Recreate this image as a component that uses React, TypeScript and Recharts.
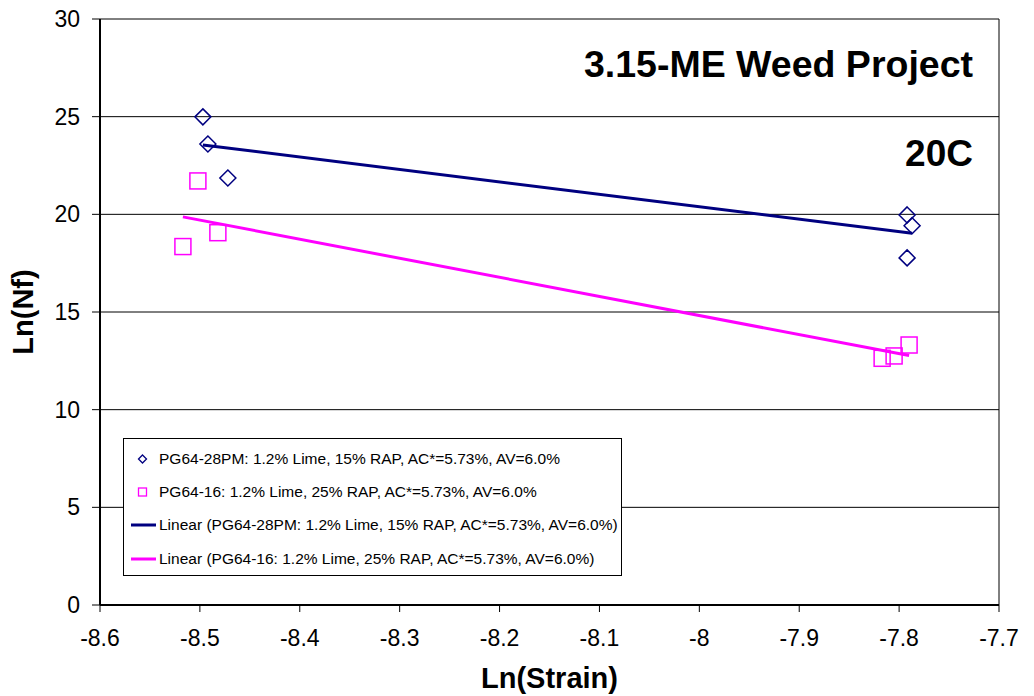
import { CartesianGrid, Label, Legend, ReferenceLine, Scatter, ScatterChart, XAxis, YAxis } from "recharts";

// Ln(Strain) / Ln(Nf)
const pg6428Strain = [-8.497, -8.492, -8.472, -7.792, -7.787, -7.792];
const pg6428Nf = [24.99, 23.6, 21.86, 19.97, 19.42, 17.77];
const pg6416Strain = [-8.502, -8.482, -8.517, -7.79, -7.805, -7.817];
const pg6416Nf = [21.71, 19.06, 18.35, 13.31, 12.75, 12.63];

// linear trendline end points
const pg6428TrendStrain = [-8.497, -7.787];
const pg6428TrendNf = [23.55, 19.03];
const pg6416TrendStrain = [-8.517, -7.79];
const pg6416TrendNf = [19.87, 12.77];

const xTicks = [-8.6, -8.5, -8.4, -8.3, -8.2, -8.1, -8, -7.9, -7.8, -7.7];
const yTicks = [0, 5, 10, 15, 20, 25, 30];

const label28 = "PG64-28PM: 1.2% Lime, 15% RAP, AC*=5.73%, AV=6.0%";
const label16 = "PG64-16: 1.2% Lime, 25% RAP, AC*=5.73%, AV=6.0%";

const NAVY = "#000080";
const PINK = "#FF00FF";
const FONT = '"Liberation Sans", Arial, sans-serif';

const toPoints = (xs: number[], ys: number[]) => xs.map((x, i) => ({ x, y: ys[i] }));

function Diamond(props: any) {
  const { cx, cy } = props;
  const r = 8;
  return (
    <polygon
      points={`${cx},${cy - r} ${cx + r},${cy} ${cx},${cy + r} ${cx - r},${cy}`}
      fill="none"
      stroke={NAVY}
      strokeWidth={1.5}
    />
  );
}

function Square(props: any) {
  const { cx, cy } = props;
  const h = 8;
  return <rect x={cx - h} y={cy - h} width={h * 2} height={h * 2} fill="none" stroke={PINK} strokeWidth={1.5} />;
}

const NoDot = () => <g />;

function LegendBox() {
  const rows = [
    { kind: "diamond", text: label28 },
    { kind: "square", text: label16 },
    { kind: "navy", text: `Linear (${label28})` },
    { kind: "pink", text: `Linear (${label16})` },
  ];
  return (
    <div
      style={{
        width: 499,
        height: 138,
        boxSizing: "border-box",
        border: "1px solid #000",
        background: "#fff",
        paddingTop: 3,
        fontFamily: FONT,
        fontSize: 15.5,
        color: "#000",
        textAlign: "left",
      }}
    >
      {rows.map((r) => (
        <div key={r.text} style={{ height: 33.4, display: "flex", alignItems: "center", whiteSpace: "nowrap" }}>
          <svg width={35} height={20} style={{ flex: "none" }}>
            {r.kind === "diamond" && (
              <polygon points="18.5,6 22.5,10 18.5,14 14.5,10" fill="none" stroke={NAVY} strokeWidth={1.3} />
            )}
            {r.kind === "square" && <rect x={14.5} y={6} width={8} height={8} fill="none" stroke={PINK} strokeWidth={1.3} />}
            {r.kind === "navy" && <line x1={7} x2={32} y1={10} y2={10} stroke={NAVY} strokeWidth={3} />}
            {r.kind === "pink" && <line x1={7} x2={32} y1={10} y2={10} stroke={PINK} strokeWidth={3} />}
          </svg>
          <span>{r.text}</span>
        </div>
      ))}
    </div>
  );
}

export default function App() {
  return (
    <div style={{ position: "absolute", left: 0, top: 0, width: 1034, height: 696, background: "#fff", fontFamily: FONT }}>
      <ScatterChart width={1034} height={696} margin={{ top: 19, right: 35, bottom: 0, left: 0 }}>
        <CartesianGrid horizontal vertical={false} stroke="#000" strokeWidth={1} />
        <XAxis
          type="number"
          dataKey="x"
          domain={[-8.6, -7.7]}
          ticks={xTicks}
          interval={0}
          height={91}
          axisLine={{ stroke: "#000", strokeWidth: 2 }}
          tickLine={{ stroke: "#000" }}
          tickSize={7}
          tickMargin={18}
          tick={{ fill: "#000", fontSize: 23, fontFamily: FONT }}
        >
          <Label
            value="Ln(Strain)"
            position="insideBottom"
            offset={8}
            style={{ fill: "#000", fontSize: 29, fontWeight: "bold", fontFamily: FONT }}
          />
        </XAxis>
        <YAxis
          type="number"
          dataKey="y"
          domain={[0, 30]}
          ticks={yTicks}
          interval={0}
          width={100}
          axisLine={{ stroke: "#000", strokeWidth: 2 }}
          tickLine={{ stroke: "#000" }}
          tickSize={8}
          tickMargin={12}
          tick={{ fill: "#000", fontSize: 23, fontFamily: FONT }}
        >
          <Label
            value="Ln(Nf)"
            position="insideLeft"
            angle={-90}
            offset={23}
            style={{ fill: "#000", fontSize: 29, fontWeight: "bold", fontFamily: FONT, textAnchor: "middle" }}
          />
        </YAxis>
        <ReferenceLine x={-7.7} stroke="#000" strokeWidth={1} />
        <Scatter
          name={label28}
          data={toPoints(pg6428Strain, pg6428Nf)}
          shape={Diamond}
          isAnimationActive={false}
        />
        <Scatter
          name={label16}
          data={toPoints(pg6416Strain, pg6416Nf)}
          shape={Square}
          isAnimationActive={false}
        />
        <Scatter
          name={`Linear (${label28})`}
          data={toPoints(pg6428TrendStrain, pg6428TrendNf)}
          line={{ stroke: NAVY, strokeWidth: 3 }}
          stroke={NAVY}
          shape={NoDot}
          isAnimationActive={false}
        />
        <Scatter
          name={`Linear (${label16})`}
          data={toPoints(pg6416TrendStrain, pg6416TrendNf)}
          line={{ stroke: PINK, strokeWidth: 3 }}
          stroke={PINK}
          shape={NoDot}
          isAnimationActive={false}
        />
        <Legend
          layout="vertical"
          align="center"
          verticalAlign="middle"
          content={() => <LegendBox />}
          wrapperStyle={{ position: "absolute", left: 123, top: 438, width: 499, height: 138 }}
        />
      </ScatterChart>
      <svg
        width={1034}
        height={696}
        style={{ position: "absolute", left: 0, top: 0, pointerEvents: "none" }}
      >
        <text x={973} y={77} textAnchor="end" fontSize={37.5} fontWeight="bold" fontFamily={FONT} fill="#000">
          3.15-ME Weed Project
        </text>
        <text x={973} y={166} textAnchor="end" fontSize={37} fontWeight="bold" fontFamily={FONT} fill="#000">
          20C
        </text>
      </svg>
    </div>
  );
}
